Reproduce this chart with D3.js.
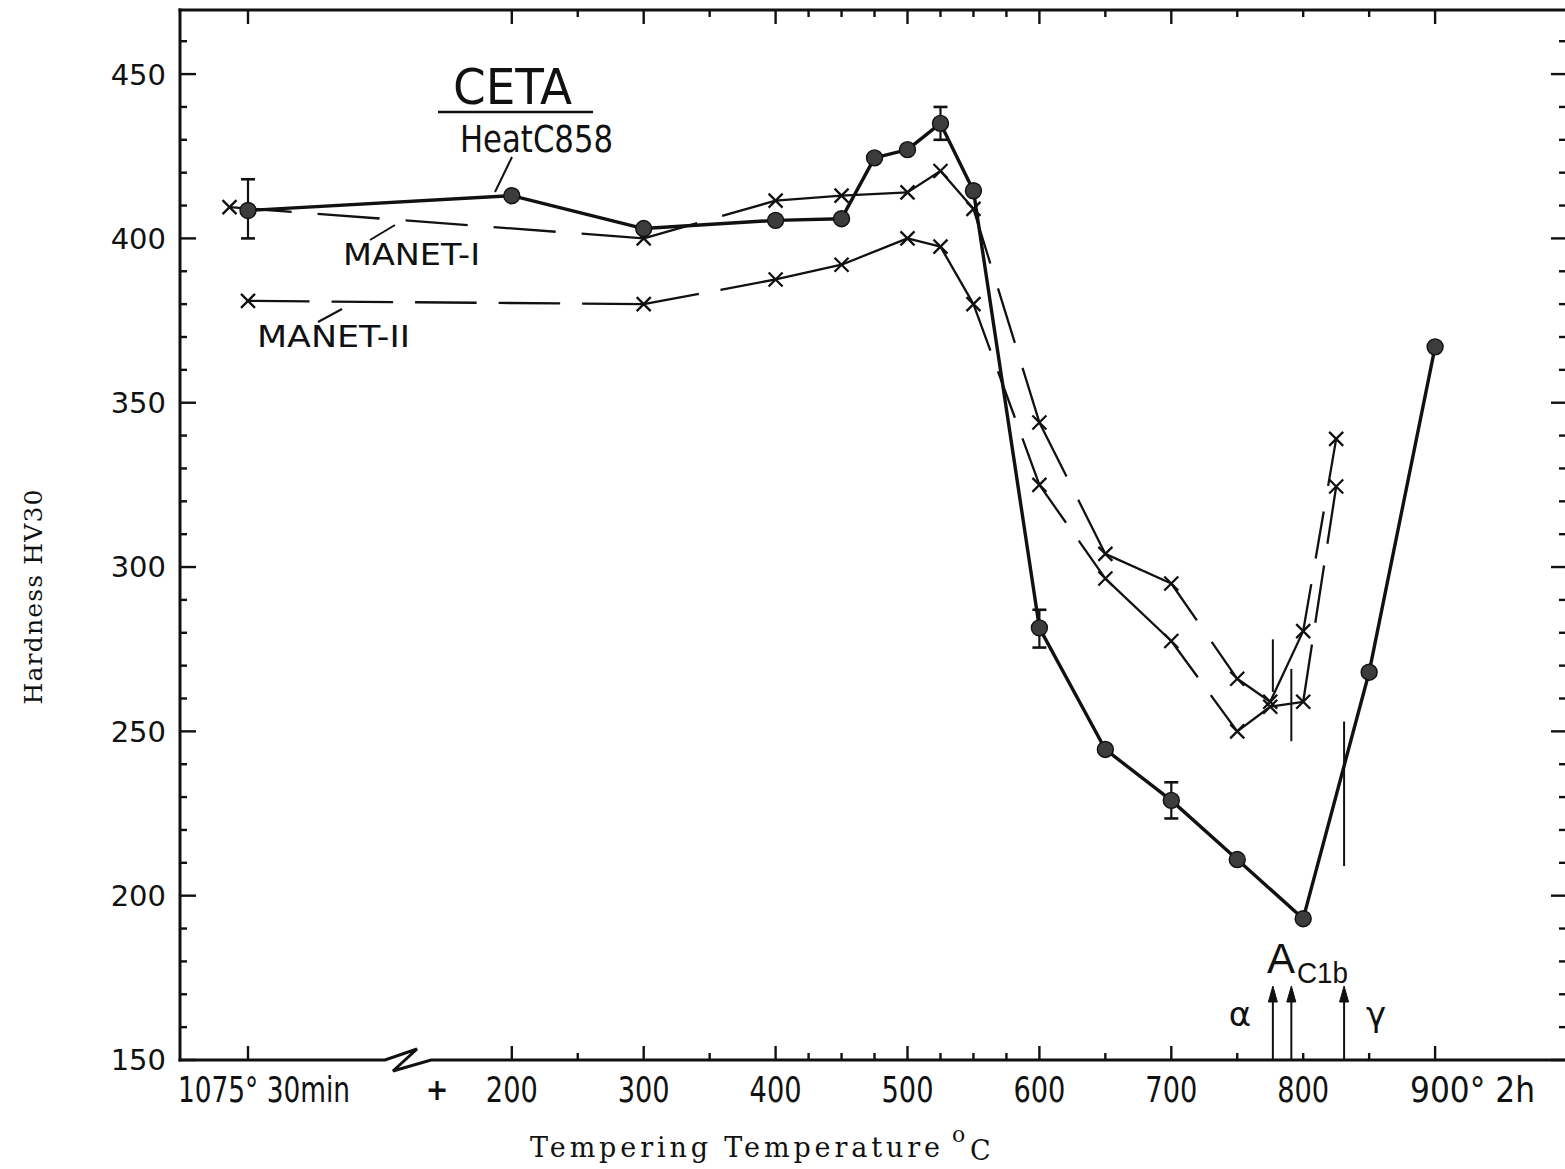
<!DOCTYPE html>
<html>
<head>
<meta charset="utf-8">
<script src="https://cdn.jsdelivr.net/npm/d3@7"></script>
<style>
  html, body { margin: 0; padding: 0; background: #fff; }
  svg { display: block; }
</style>
</head>
<body>
<svg id="chart" width="1565" height="1169"></svg>
<script>
// Tempering temperature in °C; 0 stands for the as-quenched state (1075° 30min)
const cetaTemps    = [0, 200, 300, 400, 450, 475, 500, 525, 550, 600, 650, 700, 750, 800, 850, 900];
const cetaHardness = [408.5, 413, 403, 405.5, 406, 424.5, 427, 435, 414.5, 281.5, 244.5, 229, 211, 193, 268, 367];

// scatter bands on selected CETA points
const errTemps = [0, 525, 600, 700];
const errLow   = [400, 430, 275.5, 223.5];
const errHigh  = [418, 440, 287, 234.5];

const manet1Temps    = [-14, 300, 400, 450, 500, 525, 550, 600, 650, 700, 750, 775, 800, 825];
const manet1Hardness = [409.5, 400, 411.5, 413, 414, 420.5, 409, 344, 304, 295, 266, 259, 280.5, 339];

const manet2Temps    = [0, 300, 400, 450, 500, 525, 550, 600, 650, 700, 750, 775, 800, 825];
const manet2Hardness = [381, 380, 387.5, 392, 400, 397.5, 380, 325, 296.5, 277.5, 250, 257.5, 259, 324.5];

// Ac1b transformation temperatures (MANET-I, MANET-II, CETA) and the hardness band marked on each curve
const ac1bTemps = [777, 791, 831];
const ac1bLow   = [262, 247, 209];
const ac1bHigh  = [278, 269, 253];

// axis ticks
const xMajorTicks  = [0, 200, 300, 400, 500, 600, 700, 900];
const xMinorTicks  = [250, 350, 425, 450, 475, 525, 550, 575, 650, 750, 800, 850];
const xTickLabels  = ["1075° 30min", "200", "300", "400", "500", "600", "700", "800", "900° 2h"];
const xLabelTemps  = [0, 200, 300, 400, 500, 600, 700, 800, 900];
const yMajorTicks  = [150, 200, 250, 300, 350, 400, 450];
const yMinorTicks  = d3.range(160, 470, 10).filter(v => v % 50 !== 0);

const svg = d3.select("#chart");
const W = 1565, H = 1169;
svg.append("rect").attr("width", W).attr("height", H).attr("fill", "#fff");

const frame = { left: 180, right: 1569, top: 10, bottom: 1060 };

const x = d3.scaleLinear().domain([0, 900]).range([248, 248 + 900 * 1.319]);
const y = d3.scaleLinear().domain([150, 469.5]).range([frame.bottom, frame.top]);

const ink = "#111";
const sansNarrow = "'Liberation Sans Narrow', 'DejaVu Sans Condensed', 'Liberation Sans', Arial, sans-serif";
const typewriter = "'DejaVu Serif', 'Liberation Serif', serif";

// ---------- frame ----------
const axes = svg.append("g").attr("stroke", ink).attr("fill", "none").attr("stroke-linecap", "square");
axes.append("line").attr("x1", frame.left).attr("x2", frame.left).attr("y1", frame.top).attr("y2", frame.bottom).attr("stroke-width", 3);
axes.append("line").attr("x1", frame.left).attr("x2", frame.right).attr("y1", frame.top).attr("y2", frame.top).attr("stroke-width", 3);
axes.append("line").attr("x1", frame.right).attr("x2", frame.right).attr("y1", frame.top).attr("y2", frame.bottom).attr("stroke-width", 3);
// bottom axis with a break between the quenched state and 200 °C
axes.append("path")
  .attr("stroke-width", 3)
  .attr("stroke-linejoin", "miter")
  .attr("d", `M${frame.left},${frame.bottom} L385,${frame.bottom} L417,${frame.bottom - 11} L393,${frame.bottom + 11} L431,${frame.bottom} L${frame.right},${frame.bottom}`);

// x ticks, bottom (pointing up) and top (pointing down)
const tickG = svg.append("g").attr("stroke", ink).attr("stroke-width", 2.4);
xMajorTicks.forEach(t => {
  tickG.append("line").attr("x1", x(t)).attr("x2", x(t)).attr("y1", frame.bottom).attr("y2", frame.bottom - 14);
  tickG.append("line").attr("x1", x(t)).attr("x2", x(t)).attr("y1", frame.top).attr("y2", frame.top + 14);
});
xMinorTicks.forEach(t => {
  tickG.append("line").attr("x1", x(t)).attr("x2", x(t)).attr("y1", frame.bottom).attr("y2", frame.bottom - 7);
  tickG.append("line").attr("x1", x(t)).attr("x2", x(t)).attr("y1", frame.top).attr("y2", frame.top + 7);
});
// y ticks, left (pointing right) and right (pointing left)
yMajorTicks.forEach(v => {
  tickG.append("line").attr("x1", frame.left).attr("x2", frame.left + 16).attr("y1", y(v)).attr("y2", y(v));
  tickG.append("line").attr("x1", frame.right).attr("x2", frame.right - 18).attr("y1", y(v)).attr("y2", y(v));
});
yMinorTicks.forEach(v => {
  tickG.append("line").attr("x1", frame.left).attr("x2", frame.left + 7).attr("y1", y(v)).attr("y2", y(v));
  tickG.append("line").attr("x1", frame.right).attr("x2", frame.right - 10).attr("y1", y(v)).attr("y2", y(v));
});

// ---------- tick labels ----------
svg.append("g").selectAll("text")
  .data(yMajorTicks).join("text")
  .attr("x", 166).attr("y", d => y(d)).attr("dy", "0.36em")
  .attr("text-anchor", "end")
  .attr("font-family", "'DejaVu Sans', sans-serif").attr("font-size", 29)
  .attr("fill", ink)
  .text(d => d);

const xlab = svg.append("g").attr("font-family", sansNarrow).attr("fill", ink).attr("font-size", 35);
xTickLabels.forEach((lab, i) => {
  const t = xLabelTemps[i];
  const tx = xlab.append("text").attr("y", 1102).text(lab);
  if (i === 0) {
    tx.attr("x", 178).attr("textLength", 172).attr("lengthAdjust", "spacingAndGlyphs");
  } else if (i === xTickLabels.length - 1) {
    tx.attr("x", 1410).attr("textLength", 125).attr("lengthAdjust", "spacingAndGlyphs");
  } else {
    tx.attr("x", x(t)).attr("text-anchor", "middle").attr("textLength", 52).attr("lengthAdjust", "spacingAndGlyphs");
  }
});
// "+" marks the start of tempering after the quench
xlab.append("text").attr("x", 437).attr("y", 1100).attr("text-anchor", "middle").attr("font-weight", "bold").attr("font-size", 30).text("+");

// ---------- axis titles ----------
svg.append("text")
  .attr("transform", "translate(42,597) rotate(-90)")
  .attr("text-anchor", "middle")
  .attr("font-family", typewriter).attr("font-size", 25).attr("fill", ink)
  .attr("textLength", 215).attr("lengthAdjust", "spacing")
  .text("Hardness HV30");

const xt = svg.append("g").attr("font-family", typewriter).attr("fill", ink);
xt.append("text").attr("x", 530).attr("y", 1157).attr("font-size", 27)
  .attr("textLength", 410).attr("lengthAdjust", "spacing")
  .text("Tempering Temperature");
xt.append("text").attr("x", 952).attr("y", 1142).attr("font-size", 22).text("o");
xt.append("text").attr("x", 970).attr("y", 1160).attr("font-size", 27).text("C");

// ---------- helpers ----------
// dashed polyline: each segment gets its own evenly fitted dash pattern, like a drafted curve
function dashedPolyline(g, temps, vals, dash, gap, width) {
  for (let i = 0; i < temps.length - 1; i++) {
    const x0 = x(temps[i]), y0 = y(vals[i]), x1 = x(temps[i + 1]), y1 = y(vals[i + 1]);
    const L = Math.hypot(x1 - x0, y1 - y0);
    const n = Math.max(1, Math.round((L + gap) / (dash + gap)));
    const line = g.append("line")
      .attr("x1", x0).attr("y1", y0).attr("x2", x1).attr("y2", y1)
      .attr("stroke", ink).attr("stroke-width", width).attr("stroke-linecap", "butt");
    if (n > 1) {
      const d = (L - (n - 1) * gap) / n;
      line.attr("stroke-dasharray", `${d},${gap}`);
    }
  }
}
function crosses(g, temps, vals) {
  const s = 7;
  temps.forEach((t, i) => {
    const cx = x(t), cy = y(vals[i]);
    g.append("path")
      .attr("d", `M${cx - s},${cy - s}L${cx + s},${cy + s}M${cx - s},${cy + s}L${cx + s},${cy - s}`)
      .attr("stroke", ink).attr("stroke-width", 2.3).attr("fill", "none");
  });
}

// ---------- MANET curves ----------
const manetG = svg.append("g");
dashedPolyline(manetG, manet2Temps, manet2Hardness, 60, 22, 2.3);
dashedPolyline(manetG, manet1Temps, manet1Hardness, 60, 26, 2.3);
crosses(manetG, manet2Temps, manet2Hardness);
crosses(manetG, manet1Temps, manet1Hardness);

// ---------- CETA curve ----------
const cetaG = svg.append("g");
cetaG.append("path")
  .datum(cetaTemps.map((t, i) => [t, cetaHardness[i]]))
  .attr("d", d3.line().x(d => x(d[0])).y(d => y(d[1])))
  .attr("fill", "none").attr("stroke", ink).attr("stroke-width", 3.4).attr("stroke-linejoin", "round");

// scatter bands
errTemps.forEach((t, i) => {
  const cx = x(t);
  cetaG.append("line").attr("x1", cx).attr("x2", cx).attr("y1", y(errLow[i])).attr("y2", y(errHigh[i])).attr("stroke", ink).attr("stroke-width", 2.2);
  [errLow[i], errHigh[i]].forEach(v => {
    cetaG.append("line").attr("x1", cx - 7).attr("x2", cx + 7).attr("y1", y(v)).attr("y2", y(v)).attr("stroke", ink).attr("stroke-width", 2.6);
  });
});

cetaG.selectAll("circle")
  .data(cetaTemps.map((t, i) => [t, cetaHardness[i]]))
  .join("circle")
  .attr("cx", d => x(d[0])).attr("cy", d => y(d[1])).attr("r", 8)
  .attr("fill", "#3c3c3c").attr("stroke", ink).attr("stroke-width", 1.4);

// ---------- Ac1b marks ----------
const acG = svg.append("g").attr("stroke", ink).attr("fill", ink);
ac1bTemps.forEach((t, i) => {
  const cx = x(t);
  // band on the curve
  acG.append("line").attr("x1", cx).attr("x2", cx).attr("y1", y(ac1bLow[i])).attr("y2", y(ac1bHigh[i])).attr("stroke-width", 2);
  // arrow from the axis
  acG.append("line").attr("x1", cx).attr("x2", cx).attr("y1", frame.bottom - 1).attr("y2", 995).attr("stroke-width", 2);
  acG.append("path").attr("d", `M${cx},${986} L${cx - 4.5},${1002} L${cx + 4.5},${1002} Z`).attr("stroke-width", 1);
});

const acText = svg.append("g").attr("fill", ink).attr("font-family", "'Liberation Sans', Arial, sans-serif");
acText.append("text").attr("x", 1267).attr("y", 973).attr("font-size", 42).text("A");
acText.append("text").attr("x", 1297).attr("y", 983).attr("font-size", 29)
  .attr("textLength", 51).attr("lengthAdjust", "spacingAndGlyphs").text("C1b");
acText.append("text").attr("x", 1240).attr("y", 1026).attr("text-anchor", "middle").attr("font-family", "'DejaVu Sans', sans-serif").attr("font-size", 34).text("α");
acText.append("text").attr("x", 1376).attr("y", 1026).attr("text-anchor", "middle").attr("font-family", "'DejaVu Sans', sans-serif").attr("font-size", 34).text("γ");

// ---------- curve labels ----------
const lab = svg.append("g").attr("fill", ink).attr("font-family", sansNarrow);
lab.append("text").attr("x", 453).attr("y", 104).attr("font-size", 50)
  .attr("textLength", 119).attr("lengthAdjust", "spacingAndGlyphs").text("CETA");
lab.append("line").attr("x1", 438).attr("x2", 593).attr("y1", 112).attr("y2", 112).attr("stroke", ink).attr("stroke-width", 2.6);
lab.append("text").attr("x", 460).attr("y", 152).attr("font-size", 37)
  .attr("textLength", 153).attr("lengthAdjust", "spacingAndGlyphs").text("HeatC858");
lab.append("line").attr("x1", 512).attr("y1", 157).attr("x2", 495).attr("y2", 192).attr("stroke", ink).attr("stroke-width", 2);

lab.append("text").attr("x", 343).attr("y", 265).attr("font-size", 30)
  .attr("textLength", 137).attr("lengthAdjust", "spacingAndGlyphs").text("MANET-I");
lab.append("line").attr("x1", 395).attr("y1", 225).attr("x2", 370).attr("y2", 240).attr("stroke", ink).attr("stroke-width", 2);

lab.append("text").attr("x", 257).attr("y", 347).attr("font-size", 30)
  .attr("textLength", 153).attr("lengthAdjust", "spacingAndGlyphs").text("MANET-II");
lab.append("line").attr("x1", 342).attr("y1", 309).attr("x2", 318).attr("y2", 322).attr("stroke", ink).attr("stroke-width", 2);
</script>
</body>
</html>
